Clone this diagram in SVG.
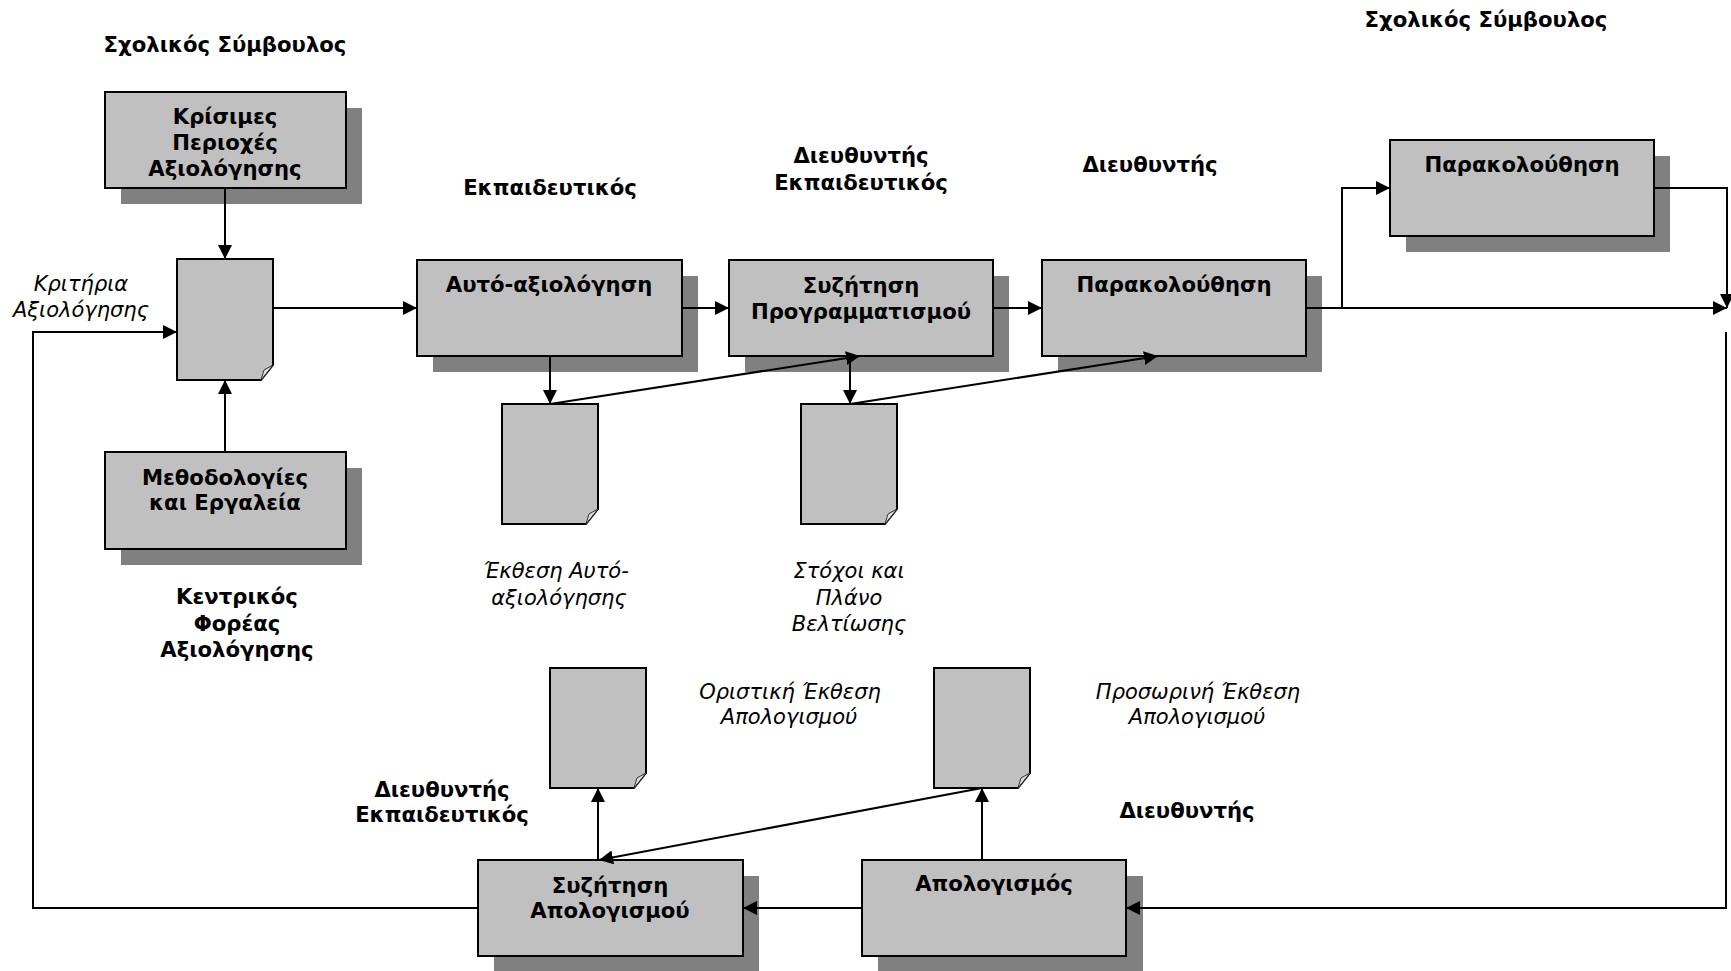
<svg xmlns="http://www.w3.org/2000/svg" width="1731" height="971" viewBox="0 0 1731 971">
<defs>
<style>
.box{fill:#c0c0c0;stroke:#000;stroke-width:2}
.sh{fill:#808080}
.doc{fill:#c0c0c0;stroke:#000;stroke-width:2;stroke-linejoin:miter}
.fold{fill:#e2e2e2;stroke:#333;stroke-width:1}
.b{font-family:"DejaVu Sans","Noto Sans",sans-serif;font-weight:bold;font-size:21.2px;fill:#000;text-anchor:middle}
.i{font-family:"DejaVu Sans","Noto Sans",sans-serif;font-style:italic;font-size:21px;fill:#000;text-anchor:middle}
.c{fill:none;stroke:#000;stroke-width:2}
.ca{fill:none;stroke:#000;stroke-width:2;marker-end:url(#ah)}
</style>
<marker id="ah" markerUnits="userSpaceOnUse" markerWidth="16" markerHeight="16" refX="14" refY="7" orient="auto"><path d="M0,0 L14,7 L0,14 z" fill="#000"/></marker>
</defs>
<rect width="1731" height="971" fill="#fff"/>

<g id="labels">
<text class="b" x="225" y="52">Σχολικός Σύμβουλος</text>
<text class="b" x="1486" y="27">Σχολικός Σύμβουλος</text>
<text class="b" x="550" y="195">Εκπαιδευτικός</text>
<text class="b" x="861" y="163">Διευθυντής</text>
<text class="b" x="861" y="190">Εκπαιδευτικός</text>
<text class="b" x="1150" y="172">Διευθυντής</text>
<text class="b" x="237" y="604">Κεντρικός</text>
<text class="b" x="237" y="631">Φορέας</text>
<text class="b" x="237" y="657">Αξιολόγησης</text>
<text class="b" x="442" y="797">Διευθυντής</text>
<text class="b" x="442" y="822">Εκπαιδευτικός</text>
<text class="b" x="1187" y="818">Διευθυντής</text>
<text class="i" x="81" y="291">Κριτήρια</text>
<text class="i" x="81" y="317">Αξιολόγησης</text>
<text class="i" x="556" y="578">Έκθεση Αυτό-</text>
<text class="i" x="559" y="605">αξιολόγησης</text>
<text class="i" x="849" y="578">Στόχοι και</text>
<text class="i" x="849" y="605">Πλάνο</text>
<text class="i" x="849" y="631">Βελτίωσης</text>
<text class="i" x="790" y="699">Οριστική Έκθεση</text>
<text class="i" x="789" y="724">Απολογισμού</text>
<text class="i" x="1198" y="699">Προσωρινή Έκθεση</text>
<text class="i" x="1197" y="724">Απολογισμού</text>
</g>

<g id="n-krisimes">
<rect class="sh" x="121" y="108" width="241" height="96"/>
<rect class="box" x="105" y="92" width="241" height="96"/>
<text class="b" x="225" y="124">Κρίσιμες</text>
<text class="b" x="225" y="150">Περιοχές</text>
<text class="b" x="225" y="176">Αξιολόγησης</text>
</g>

<g id="n-methodologies">
<rect class="sh" x="121" y="468" width="241" height="97"/>
<rect class="box" x="105" y="452" width="241" height="97"/>
<text class="b" x="225" y="485">Μεθοδολογίες</text>
<text class="b" x="225" y="510">και Εργαλεία</text>
</g>

<g id="n-doc-criteria">
<path class="doc" d="M177,259 H273 V365 L261,380 H177 Z"/>
<path class="fold" d="M273,365 L264,370 L261,380 Z"/>
</g>

<g id="n-autoaxiologisi">
<rect class="sh" x="433" y="276" width="265" height="96"/>
<rect class="box" x="417" y="260" width="265" height="96"/>
<text class="b" x="549" y="292">Αυτό-αξιολόγηση</text>
</g>

<g id="n-syzitisi-prog">
<rect class="sh" x="745" y="276" width="264" height="96"/>
<rect class="box" x="729" y="260" width="264" height="96"/>
<text class="b" x="861" y="293">Συζήτηση</text>
<text class="b" x="861" y="319">Προγραμματισμού</text>
</g>

<g id="n-parakolouthisi">
<rect class="sh" x="1058" y="276" width="264" height="96"/>
<rect class="box" x="1042" y="260" width="264" height="96"/>
<text class="b" x="1174" y="292">Παρακολούθηση</text>
</g>

<g id="n-parakolouthisi-top">
<rect class="sh" x="1406" y="156" width="264" height="96"/>
<rect class="box" x="1390" y="140" width="264" height="96"/>
<text class="b" x="1522" y="172">Παρακολούθηση</text>
</g>

<g id="n-doc-ekthesi">
<path class="doc" d="M502,404 H598 V509 L586,524 H502 Z"/>
<path class="fold" d="M598,509 L589,514 L586,524 Z"/>
</g>

<g id="n-doc-stoxoi">
<path class="doc" d="M801,404 H897 V509 L885,524 H801 Z"/>
<path class="fold" d="M897,509 L888,514 L885,524 Z"/>
</g>

<g id="n-doc-oristiki">
<path class="doc" d="M550,668 H646 V773 L634,788 H550 Z"/>
<path class="fold" d="M646,773 L637,778 L634,788 Z"/>
</g>

<g id="n-doc-prosorini">
<path class="doc" d="M934,668 H1030 V773 L1018,788 H934 Z"/>
<path class="fold" d="M1030,773 L1021,778 L1018,788 Z"/>
</g>

<g id="n-syzitisi-apol">
<rect class="sh" x="494" y="876" width="265" height="96"/>
<rect class="box" x="478" y="860" width="265" height="96"/>
<text class="b" x="610" y="893">Συζήτηση</text>
<text class="b" x="610" y="918">Απολογισμού</text>
</g>

<g id="n-apologismos">
<rect class="sh" x="878" y="876" width="265" height="96"/>
<rect class="box" x="862" y="860" width="264" height="96"/>
<text class="b" x="994" y="891">Απολογισμός</text>
</g>

<g id="connectors">
<path class="ca" d="M225,188 V259"/>
<path class="ca" d="M225,452 V380"/>
<path class="ca" d="M273,308 H417"/>
<path class="ca" d="M682,308 H729"/>
<path class="ca" d="M993,308 H1042"/>
<path class="ca" d="M1306,308 H1727"/>
<path class="ca" d="M1342,308 V188 H1390"/>
<path class="ca" d="M1654,188 H1727 V308"/>
<path class="ca" d="M550,356 V404"/>
<path class="ca" d="M550,404 L860,356"/>
<path class="ca" d="M850,356 V404"/>
<path class="ca" d="M850,404 L1158,356"/>
<path class="ca" d="M1726,332 V908 H1126"/>
<path class="ca" d="M862,908 H743"/>
<path class="ca" d="M982,860 V788"/>
<path class="ca" d="M982,788 L599,860"/>
<path class="ca" d="M598,860 V788"/>
<path class="ca" d="M478,908 H33 V332 H177"/>
</g>
</svg>
